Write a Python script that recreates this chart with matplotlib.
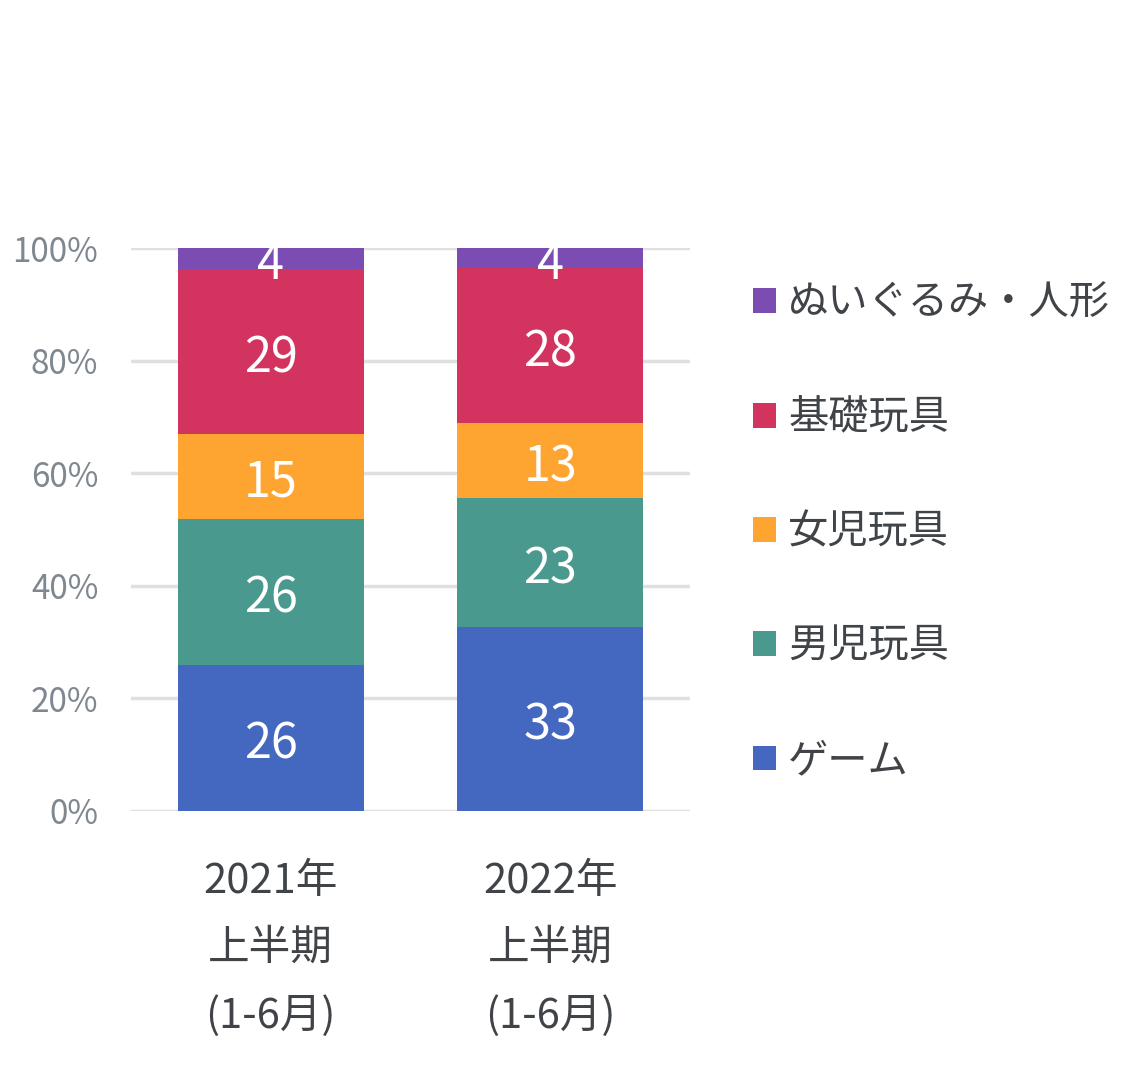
import matplotlib
matplotlib.use("Agg")
import matplotlib.pyplot as plt
from matplotlib.patches import Patch
import numpy as np

plt.rcParams['font.family'] = ['Noto Sans CJK JP', 'DejaVu Sans']

categories = ["2021年\n上半期\n(1-6月)", "2022年\n上半期\n(1-6月)"]
series_names = ["ゲーム", "男児玩具", "女児玩具", "基礎玩具", "ぬいぐるみ・人形"]
game = [25.9, 32.7]
boys = [26.0, 22.9]
girls = [15.1, 13.3]
basic = [29.3, 27.5]
plush = [3.7, 3.6]
colors = ["#4468c0", "#4a998f", "#fda431", "#d3335f", "#7b4db3"]
yticks = [0, 20, 40, 60, 80, 100]
ytick_labels = ["0%", "20%", "40%", "60%", "80%", "100%"]

series = [game, boys, girls, basic, plush]

fig = plt.figure(figsize=(11.4, 10.8), dpi=100)
ax = fig.add_axes([131/1140, 1 - 811/1080, 559/1140, 563/1080])

x = np.arange(len(categories))
bottom = np.zeros(len(categories))
handles = []
for name, vals, c in zip(series_names, series, colors):
    vals = np.array(vals, dtype=float)
    ax.bar(x, vals, 0.664, bottom=bottom, color=c, zorder=3, clip_on=False)
    for xi, v, b in zip(x, vals, bottom):
        ax.annotate(f"{round(v):d}", (xi, b + v / 2), xytext=(0, -5),
                    textcoords='offset points', ha='center', va='center',
                    color='white', fontsize=35, zorder=4, annotation_clip=False)
    bottom += vals
    handles.append(Patch(facecolor=c, label=name))

ax.set_xlim(-0.5, 1.5)
ax.set_ylim(0, 100)
ax.set_yticks(yticks)
ax.set_yticklabels(ytick_labels)
ax.set_xticks(x)
ax.set_xticklabels(categories, linespacing=1.81)
ax.tick_params(axis='y', length=0, pad=23.5, labelsize=24, labelcolor='#7f8790')
ax.tick_params(axis='x', length=0, pad=36, labelsize=30, labelcolor='#404448')
ax.grid(axis='y', color='#e0e0e0', linewidth=2.5, zorder=0)
for s in ax.spines.values():
    s.set_visible(False)

leg = fig.legend(handles=handles[::-1], loc='upper left',
                 bbox_to_anchor=(753/1140, 1 - 283/1080), frameon=False,
                 fontsize=29, handlelength=0.575, handleheight=0.575,
                 handletextpad=0.3, labelspacing=1.82, borderpad=0, borderaxespad=0)
for t in leg.get_texts():
    t.set_color('#404448')

fig.savefig("out.png", dpi=100, facecolor='white')
